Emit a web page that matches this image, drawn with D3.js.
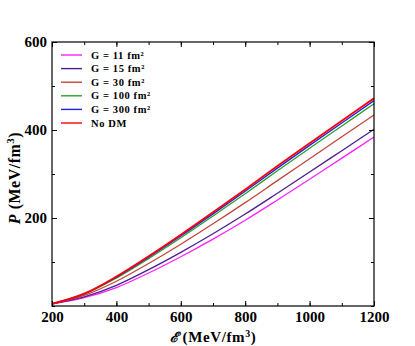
<!DOCTYPE html>
<html><head><meta charset="utf-8">
<script src="https://cdn.jsdelivr.net/npm/d3@7"></script>
<style>body{margin:0;background:#fff}svg{display:block}text{font-family:"Liberation Serif","DejaVu Serif",serif}</style>
</head><body><svg id="c" width="415" height="346"></svg>
<script>
const energy = [200, 300, 400, 500, 600, 700, 800, 900, 1000, 1100, 1200];
const pG11  = [5, 19, 42, 75, 112, 152, 195, 241, 288, 336, 384];
const pG15  = [5, 20.8, 47, 82.6, 122, 164.2, 209, 256.4, 304.4, 353, 401.6];
const pG30  = [5, 24.1, 56.3, 96.7, 140.5, 186.8, 234.9, 284.9, 334.7, 384.5, 434.2];
const pG100 = [5, 26.7, 63.5, 107.7, 155, 204.5, 255.2, 307.2, 358.5, 409.1, 459.7];
const pG300 = [5, 27.5, 65.5, 110.7, 159, 209.3, 260.8, 313.4, 365, 416, 466.7];
const pNoDM = [5, 28, 67, 113, 162, 213, 265, 318, 370, 421, 472];
const seriesNames = ["G = 11 fm\u00B2", "G = 15 fm\u00B2", "G = 30 fm\u00B2", "G = 100 fm\u00B2", "G = 300 fm\u00B2", "No DM"];
const seriesValues = [pG11, pG15, pG30, pG100, pG300, pNoDM];
const seriesColors = ["#ff22ff", "#4b1f8f", "#c0473d", "#2ca02c", "#2020e6", "#ff0000"];
const xTicks = [200, 400, 600, 800, 1000, 1200];
const yTicks = [200, 400, 600];

const svg = d3.select("#c");
const L = 52, R = 374, T = 42, B = 306;
const x = d3.scaleLinear().domain([200, 1200]).range([L, R]);
const y = d3.scaleLinear().domain([0, 600]).range([B, T]);

const line = d3.line().x((d, i) => x(energy[i])).y(d => y(d)).curve(d3.curveMonotoneX);
svg.append("clipPath").attr("id", "cp").append("rect").attr("x", L).attr("y", T).attr("width", R - L).attr("height", B - T);
const g = svg.append("g").attr("clip-path", "url(#cp)");
seriesValues.forEach((vals, k) => {
  g.append("path").attr("d", line(vals)).attr("fill", "none")
    .attr("stroke", seriesColors[k]).attr("stroke-width", k === 5 ? 1.8 : 1.3);
});

// axes
const fmt = d3.format("d");
const minorX = d3.range(200, 1201, 100), minorY = d3.range(0, 601, 100);
svg.append("g").attr("transform", `translate(0,${B})`)
  .call(d3.axisBottom(x).tickValues(minorX).tickSize(-3).tickFormat(""));
svg.append("g").attr("transform", `translate(0,${B})`)
  .call(d3.axisBottom(x).tickValues(xTicks).tickSize(-5).tickPadding(5).tickFormat(fmt));
svg.append("g").attr("transform", `translate(0,${T})`)
  .call(d3.axisTop(x).tickValues(minorX).tickSize(-3).tickFormat(""));
svg.append("g").attr("transform", `translate(0,${T})`)
  .call(d3.axisTop(x).tickValues(xTicks).tickSize(-5).tickFormat(""));
svg.append("g").attr("transform", `translate(${L},0)`)
  .call(d3.axisLeft(y).tickValues(minorY).tickSize(-3).tickFormat(""));
svg.append("g").attr("transform", `translate(${L},0)`)
  .call(d3.axisLeft(y).tickValues(yTicks).tickSize(-5).tickPadding(5).tickFormat(fmt));
svg.append("g").attr("transform", `translate(${R},0)`)
  .call(d3.axisRight(y).tickValues(minorY).tickSize(-3).tickFormat(""));
svg.append("g").attr("transform", `translate(${R},0)`)
  .call(d3.axisRight(y).tickValues(yTicks).tickSize(-5).tickFormat(""));
svg.selectAll(".domain").remove();
svg.selectAll(".tick line").attr("stroke", "#000").attr("stroke-width", 1);
svg.selectAll(".tick text").attr("font-size", 15).attr("font-weight", "bold").attr("fill", "#000")
  .style("font-family", "'Liberation Serif', serif");
svg.append("rect").attr("x", L).attr("y", T).attr("width", R - L).attr("height", B - T)
  .attr("fill", "none").attr("stroke", "#000").attr("stroke-width", 1.2);

// axis labels
const xl = svg.append("text").attr("x", 213).attr("y", 342).attr("text-anchor", "middle")
  .attr("font-size", 15).attr("font-weight", "bold").attr("letter-spacing", 0.6);
xl.append("tspan").attr("font-style", "italic").attr("font-family", "'DejaVu Serif', serif").attr("font-size", 14).text("\u2130");
xl.append("tspan").text(" (MeV/fm");
xl.append("tspan").attr("dy", -5).attr("font-size", 10).text("3");
xl.append("tspan").attr("dy", 5).text(")");

const yl = svg.append("text").attr("transform", "translate(20,178) rotate(-90)").attr("text-anchor", "middle")
  .attr("font-size", 16).attr("font-weight", "bold").attr("letter-spacing", 0.5);
yl.append("tspan").attr("font-style", "italic").text("P");
yl.append("tspan").text(" (MeV/fm");
yl.append("tspan").attr("dy", -6).attr("font-size", 11).text("3");
yl.append("tspan").attr("dy", 6).text(")");

// legend
const lg = svg.append("g").attr("transform", "translate(61,55)");
seriesNames.forEach((name, k) => {
  const row = lg.append("g").attr("transform", `translate(0,${k * 13.6})`);
  row.append("line").attr("x1", 0).attr("x2", 21).attr("y1", 0).attr("y2", 0)
    .attr("stroke", seriesColors[k]).attr("stroke-width", 1.4);
  row.append("text").attr("x", 30).attr("y", 3.5).attr("font-size", 10.5).attr("font-weight", "bold")
    .attr("letter-spacing", 0.6).text(name);
});
</script></body></html>
